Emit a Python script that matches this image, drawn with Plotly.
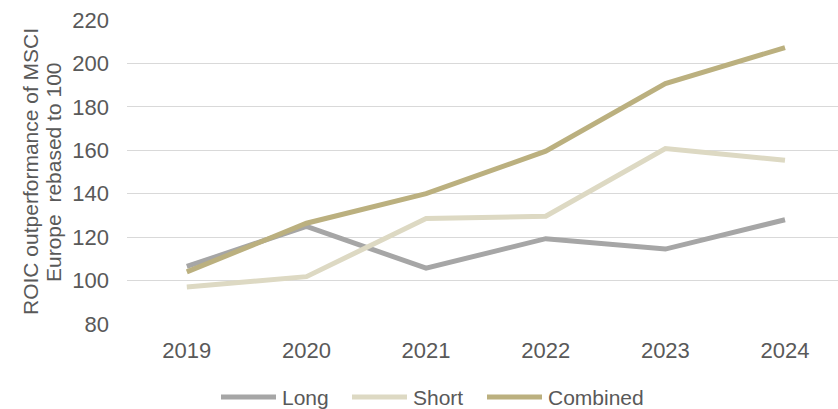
import plotly.graph_objects as go

years = ["2019", "2020", "2021", "2022", "2023", "2024"]
long_vals = [106.5, 125.0, 105.7, 119.3, 114.5, 128.0]
short_vals = [97.0, 101.8, 128.6, 129.6, 160.8, 155.4]
combined_vals = [104.0, 126.4, 140.0, 159.6, 190.7, 207.3]

series = [
    ("Long", long_vals, "#A6A6A6"),
    ("Short", short_vals, "#DDD9C3"),
    ("Combined", combined_vals, "#BBB07F"),
]

title_lines = ["ROIC outperformance of MSCI", "Europe  rebased to 100"]

W, H = 838, 409
ML, MR, MT, MB = 127, 0, 20, 85
plot_w = W - ML - MR
plot_h = H - MT - MB

font_family = "Liberation Sans, Arial, sans-serif"
text_color = "#595959"

fig = go.Figure()
for name, vals, color in series:
    fig.add_trace(go.Scatter(
        x=list(range(len(years))), y=vals, name=name, mode="lines",
        line=dict(color=color, width=5), showlegend=False,
    ))


def px_x(px):
    return (px - ML) / plot_w


def px_y(py):
    return (H - MB - py) / plot_h


# Two-line rotated axis title, placed as annotations for tight line spacing
for i, line in enumerate(title_lines):
    fig.add_annotation(
        text=line, xref="paper", yref="paper",
        x=px_x(30 + 23 * i), y=0.5,
        xanchor="center", yanchor="middle", textangle=-90,
        showarrow=False, font=dict(size=21, color=text_color, family=font_family),
    )

# Legend row under the chart: a long line swatch followed by the series name
legend_starts = [221, 352, 487]
swatch_len = 55
legend_y = 397
for (name, _, color), start in zip(series, legend_starts):
    fig.add_shape(
        type="line", xref="paper", yref="paper",
        x0=px_x(start), x1=px_x(start + swatch_len),
        y0=px_y(legend_y), y1=px_y(legend_y),
        line=dict(color=color, width=5),
    )
    fig.add_annotation(
        text=name, xref="paper", yref="paper",
        x=px_x(start + swatch_len + 4), y=px_y(legend_y),
        xanchor="left", yanchor="middle", showarrow=False,
        font=dict(size=21, color=text_color, family=font_family),
    )

fig.update_layout(
    width=W, height=H,
    margin=dict(l=ML, r=MR, t=MT, b=MB, autoexpand=False),
    paper_bgcolor="white", plot_bgcolor="white",
    font=dict(family=font_family, color=text_color, size=21),
    showlegend=False,
    xaxis=dict(
        range=[-0.5, 5.443], tickmode="array",
        tickvals=list(range(len(years))), ticktext=years,
        showgrid=False, zeroline=False, showline=False, ticks="",
        ticklen=0, ticklabelstandoff=11,
        tickfont=dict(size=22, color=text_color),
    ),
    yaxis=dict(
        range=[80, 220], dtick=20, tick0=80,
        showgrid=True, gridcolor="#D9D9D9", gridwidth=1.3,
        zeroline=False, showline=False, ticks="",
        ticklabelstandoff=17,
        tickfont=dict(size=22, color=text_color),
    ),
)

fig.write_html("out.html")
